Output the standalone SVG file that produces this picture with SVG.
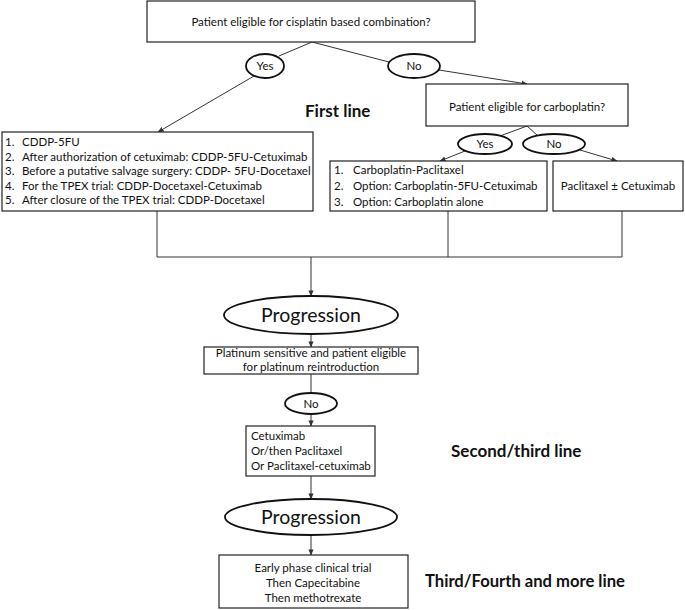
<svg xmlns="http://www.w3.org/2000/svg" width="685" height="610" viewBox="0 0 685 610">
<style>
.box{fill:#fff;stroke:#222;stroke-width:1.2}
.ell{fill:#fff;stroke:#111;stroke-width:1.8}
.t{font-family:Lato,"Open Sans","Liberation Sans",sans-serif;font-size:11.5px;fill:#111}
.c{text-anchor:middle}
.big{font-size:19.5px}
.h{font-family:Lato,"Open Sans","Liberation Sans",sans-serif;font-weight:bold;font-size:17px;fill:#111}
.ln{fill:none;stroke:#333;stroke-width:1}
</style>
<defs>
<marker id="ar" viewBox="0 0 8 8" refX="7.5" refY="4" markerWidth="6" markerHeight="6" orient="auto" markerUnits="userSpaceOnUse">
<path d="M0,0.5 L8,4 L0,7.5 Z" fill="#333"/>
</marker>
</defs>
<rect width="685" height="610" fill="#fff"/>
<g id="connectors">
<line class="ln" x1="312" y1="42" x2="279" y2="56"/>
<line class="ln" x1="254" y1="76" x2="158" y2="132" marker-end="url(#ar)"/>
<line class="ln" x1="312" y1="42" x2="389" y2="62"/>
<line class="ln" x1="439" y1="70" x2="527" y2="84" marker-end="url(#ar)"/>
<line class="ln" x1="527" y1="126" x2="500" y2="136"/>
<line class="ln" x1="527" y1="126" x2="538" y2="136"/>
<line class="ln" x1="465" y1="151" x2="440" y2="161" marker-end="url(#ar)"/>
<line class="ln" x1="580" y1="150" x2="617" y2="161" marker-end="url(#ar)"/>
<polyline class="ln" points="157,211 157,257 622,257 622,211"/>
<line class="ln" x1="448" y1="211" x2="448" y2="257"/>
<line class="ln" x1="311" y1="257" x2="311" y2="296" marker-end="url(#ar)"/>
<line class="ln" x1="311" y1="334" x2="311" y2="347" marker-end="url(#ar)"/>
<line class="ln" x1="311" y1="374" x2="311" y2="393"/>
<line class="ln" x1="311" y1="414" x2="311" y2="426" marker-end="url(#ar)"/>
<line class="ln" x1="311" y1="476" x2="311" y2="499" marker-end="url(#ar)"/>
<line class="ln" x1="311" y1="535" x2="311" y2="555" marker-end="url(#ar)"/>
</g>
<g id="q-cisplatin">
<rect class="box" x="147" y="1" width="328" height="41"/>
<text class="t c" x="311" y="26">Patient eligible for cisplatin based combination?</text>
</g>
<g id="yes1">
<ellipse class="ell" cx="265" cy="66" rx="19" ry="12"/>
<text class="t c" x="265" y="70">Yes</text>
</g>
<g id="no1">
<ellipse class="ell" cx="414" cy="66" rx="26" ry="12"/>
<text class="t c" x="414" y="70">No</text>
</g>
<g id="first-line-list">
<rect class="box" x="2" y="132" width="311" height="79"/>
<text class="t" x="5" y="146">1.</text><text class="t" x="22" y="146">CDDP-5FU</text>
<text class="t" x="5" y="160.5">2.</text><text class="t" x="22" y="160.5">After authorization of cetuximab: CDDP-5FU-Cetuximab</text>
<text class="t" x="5" y="175">3.</text><text class="t" x="22" y="175">Before a putative salvage surgery: CDDP- 5FU-Docetaxel</text>
<text class="t" x="5" y="189.5">4.</text><text class="t" x="22" y="189.5">For the TPEX trial: CDDP-Docetaxel-Cetuximab</text>
<text class="t" x="5" y="204">5.</text><text class="t" x="22" y="204">After closure of the TPEX trial: CDDP-Docetaxel</text>
</g>
<g id="first-line-label">
<text class="h" x="305" y="117">First line</text>
</g>
<g id="q-carboplatin">
<rect class="box" x="426" y="84" width="202" height="42"/>
<text class="t c" x="527" y="111">Patient eligible for carboplatin?</text>
</g>
<g id="yes2">
<ellipse class="ell" cx="485" cy="144" rx="27" ry="10"/>
<text class="t c" x="485" y="148">Yes</text>
</g>
<g id="no2">
<ellipse class="ell" cx="554" cy="144" rx="31" ry="10"/>
<text class="t c" x="554" y="148">No</text>
</g>
<g id="carbo-list">
<rect class="box" x="330" y="161" width="217" height="50"/>
<text class="t" x="334" y="174">1.</text><text class="t" x="353" y="174">Carboplatin-Paclitaxel</text>
<text class="t" x="334" y="190">2.</text><text class="t" x="353" y="190">Option: Carboplatin-5FU-Cetuximab</text>
<text class="t" x="334" y="206">3.</text><text class="t" x="353" y="206">Option: Carboplatin alone</text>
</g>
<g id="paclitaxel">
<rect class="box" x="553" y="161" width="130" height="50"/>
<text class="t c" x="618" y="190">Paclitaxel ± Cetuximab</text>
</g>
<g id="progression1">
<ellipse class="ell" cx="311" cy="315" rx="87" ry="19"/>
<text class="t c big" x="311" y="322">Progression</text>
</g>
<g id="platinum">
<rect class="box" x="204" y="347" width="214" height="27"/>
<text class="t c" x="311" y="357">Platinum sensitive and patient eligible</text>
<text class="t c" x="311" y="371">for platinum reintroduction</text>
</g>
<g id="no3">
<ellipse class="ell" cx="311" cy="403.5" rx="26" ry="10.5"/>
<text class="t c" x="311" y="407.5">No</text>
</g>
<g id="second-line-list">
<rect class="box" x="246" y="426" width="129" height="50"/>
<text class="t" x="251" y="440">Cetuximab</text>
<text class="t" x="251" y="455">Or/then Paclitaxel</text>
<text class="t" x="251" y="470">Or Paclitaxel-cetuximab</text>
</g>
<g id="second-line-label">
<text class="h" x="451" y="457">Second/third line</text>
</g>
<g id="progression2">
<ellipse class="ell" cx="311" cy="517" rx="86" ry="18"/>
<text class="t c big" x="311" y="524">Progression</text>
</g>
<g id="third-line-list">
<rect class="box" x="219" y="555" width="189" height="53"/>
<text class="t c" x="313" y="572">Early phase clinical trial</text>
<text class="t c" x="313" y="587">Then Capecitabine</text>
<text class="t c" x="313" y="602">Then methotrexate</text>
</g>
<g id="third-line-label">
<text class="h" x="425" y="587" style="font-size:16.6px">Third/Fourth and more line</text>
</g>
</svg>
